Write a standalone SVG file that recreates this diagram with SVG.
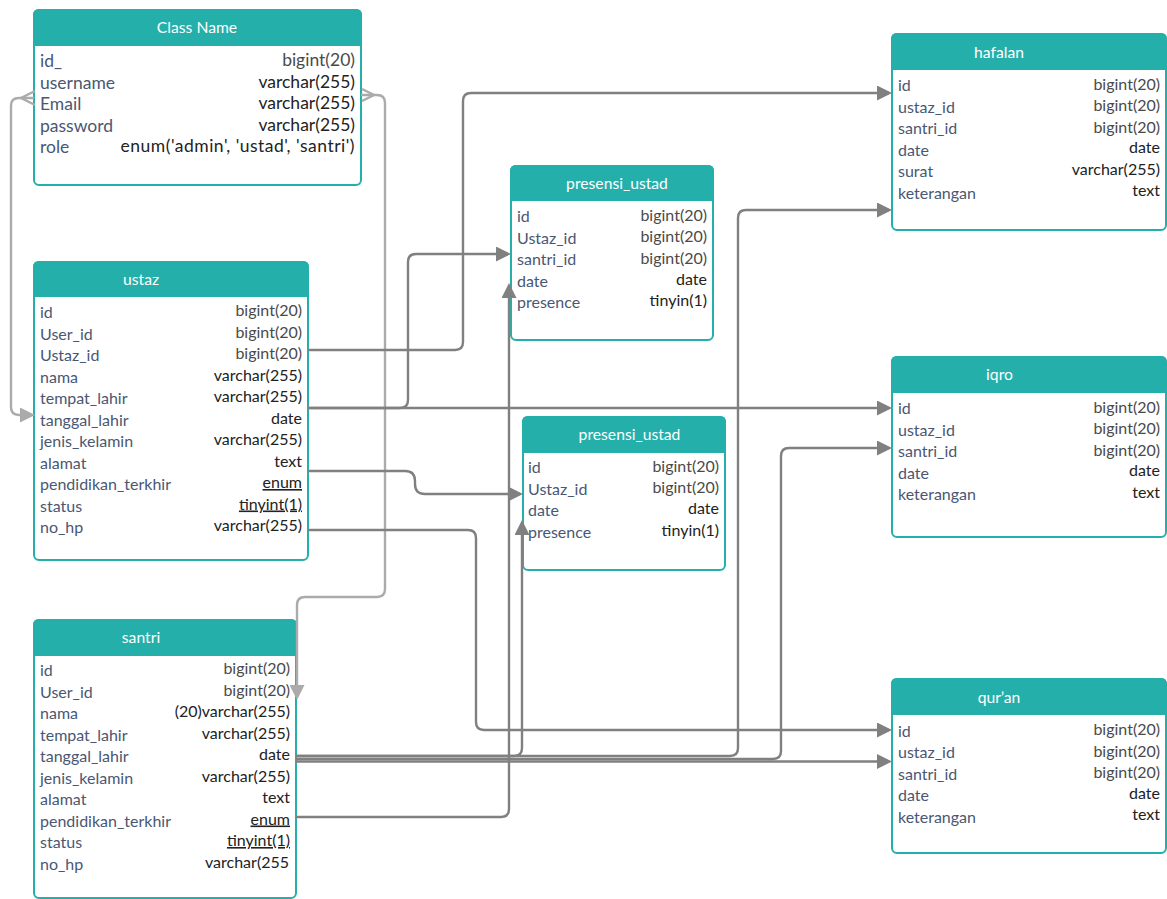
<svg xmlns="http://www.w3.org/2000/svg" width="1167" height="899" viewBox="0 0 1167 899">
<style>
.box{fill:#fff;stroke:#24AFAB;stroke-width:2}
.hdr{fill:#24AFAB;stroke:#24AFAB;stroke-width:2}
.ttl{font-family:Lato,"Open Sans",sans-serif;font-size:15.7px;fill:#fff;text-anchor:middle}
.f{font-family:Lato,"Open Sans",sans-serif;font-size:16px;fill:#4a5773}
.t{font-family:Lato,"Open Sans",sans-serif;font-size:16px;fill:#222;text-anchor:end}
.k{font-size:17.5px}
.g{fill:#4a4a4a}
.u{text-decoration:underline}
.c{fill:none;stroke:#808080;stroke-width:2.4}
.l{fill:none;stroke:#ababab;stroke-width:2.4}
</style>
<defs>
<marker id="a" viewBox="0 0 15 15" refX="12" refY="7.5" markerWidth="15" markerHeight="15" markerUnits="userSpaceOnUse" orient="auto"><path d="M0 0L15 7.5L0 15z" fill="#808080"/></marker>
<marker id="al" viewBox="0 0 15 15" refX="12" refY="7.5" markerWidth="15" markerHeight="15" markerUnits="userSpaceOnUse" orient="auto"><path d="M0 0L15 7.5L0 15z" fill="#ababab"/></marker>
</defs>

<g id="classname">
<rect class="box" x="34" y="10" width="327" height="175" rx="5"/>
<path class="hdr" d="M34 45V15Q34 10 39 10H356Q361 10 361 15V45Z"/>
<text class="ttl" x="197" y="33">Class Name</text>
<text class="f k" x="40" y="67">id_</text><text class="t k g" x="355" y="66">bigint(20)</text>
<text class="f k" x="40" y="88.5">username</text><text class="t k" x="355" y="87.5">varchar(255)</text>
<text class="f k" x="40" y="110">Email</text><text class="t k" x="355" y="109">varchar(255)</text>
<text class="f k" x="40" y="131.5">password</text><text class="t k" x="355" y="130.5">varchar(255)</text>
<text class="f k" x="40" y="153">role</text><text class="t k" x="355" y="152" letter-spacing="0.5">enum('admin', 'ustad', 'santri')</text>
</g>

<g id="ustaz">
<rect class="box" x="34" y="262" width="274" height="298" rx="5"/>
<path class="hdr" d="M34 296V267Q34 262 39 262H303Q308 262 308 267V296Z"/>
<text class="ttl" x="141" y="285">ustaz</text>
<text class="f" x="40" y="318">id</text><text class="t g" x="302" y="316">bigint(20)</text>
<text class="f" x="40" y="339.5">User_id</text><text class="t g" x="302" y="337.5">bigint(20)</text>
<text class="f" x="40" y="361">Ustaz_id</text><text class="t g" x="302" y="359">bigint(20)</text>
<text class="f" x="40" y="382.5">nama</text><text class="t" x="302" y="380.5">varchar(255)</text>
<text class="f" x="40" y="404">tempat_lahir</text><text class="t" x="302" y="402">varchar(255)</text>
<text class="f" x="40" y="425.5">tanggal_lahir</text><text class="t" x="302" y="423.5">date</text>
<text class="f" x="40" y="447">jenis_kelamin</text><text class="t" x="302" y="445">varchar(255)</text>
<text class="f" x="40" y="468.5">alamat</text><text class="t" x="302" y="466.5">text</text>
<text class="f" x="40" y="490">pendidikan_terkhir</text><text class="t u" x="302" y="488">enum</text>
<text class="f" x="40" y="511.5">status</text><text class="t u" x="302" y="509.5">tinyint(1)</text>
<text class="f" x="40" y="533">no_hp</text><text class="t" x="302" y="531">varchar(255)</text>
</g>

<g id="santri">
<rect class="box" x="34" y="620" width="262" height="278" rx="5"/>
<path class="hdr" d="M34 655V625Q34 620 39 620H291Q296 620 296 625V655Z"/>
<text class="ttl" x="141" y="643">santri</text>
<text class="f" x="40" y="676">id</text><text class="t g" x="290" y="674">bigint(20)</text>
<text class="f" x="40" y="697.5">User_id</text><text class="t g" x="290" y="695.5">bigint(20)</text>
<text class="f" x="40" y="719">nama</text><text class="t" x="290" y="717">(20)varchar(255)</text>
<text class="f" x="40" y="740.5">tempat_lahir</text><text class="t" x="290" y="738.5">varchar(255)</text>
<text class="f" x="40" y="762">tanggal_lahir</text><text class="t" x="290" y="760">date</text>
<text class="f" x="40" y="783.5">jenis_kelamin</text><text class="t" x="290" y="781.5">varchar(255)</text>
<text class="f" x="40" y="805">alamat</text><text class="t" x="290" y="803">text</text>
<text class="f" x="40" y="826.5">pendidikan_terkhir</text><text class="t u" x="290" y="824.5">enum</text>
<text class="f" x="40" y="848">status</text><text class="t u" x="290" y="846">tinyint(1)</text>
<text class="f" x="40" y="869.5">no_hp</text><text class="t" x="289" y="867.5">varchar(255</text>
</g>

<g id="presensi_ustad_1">
<rect class="box" x="511" y="166" width="202" height="174" rx="5"/>
<path class="hdr" d="M511 200V171Q511 166 516 166H708Q713 166 713 171V200Z"/>
<text class="ttl" x="617" y="189">presensi_ustad</text>
<text class="f" x="517" y="222">id</text><text class="t g" x="707" y="220.5">bigint(20)</text>
<text class="f" x="517" y="243.5">Ustaz_id</text><text class="t g" x="707" y="242">bigint(20)</text>
<text class="f" x="517" y="265">santri_id</text><text class="t g" x="707" y="263.5">bigint(20)</text>
<text class="f" x="517" y="286.5">date</text><text class="t" x="707" y="284.5">date</text>
<text class="f" x="517" y="308">presence</text><text class="t" x="707" y="306">tinyin(1)</text>
</g>

<g id="presensi_ustad_2">
<rect class="box" x="523" y="417" width="202" height="153" rx="5"/>
<path class="hdr" d="M523 452V422Q523 417 528 417H720Q725 417 725 422V452Z"/>
<text class="ttl" x="629.5" y="440">presensi_ustad</text>
<text class="f" x="528" y="473">id</text><text class="t g" x="719" y="471.5">bigint(20)</text>
<text class="f" x="528" y="494.5">Ustaz_id</text><text class="t g" x="719" y="493">bigint(20)</text>
<text class="f" x="528" y="516">date</text><text class="t" x="719" y="514">date</text>
<text class="f" x="528" y="537.5">presence</text><text class="t" x="719" y="535.5">tinyin(1)</text>
</g>

<g id="hafalan">
<rect class="box" x="892" y="34" width="274" height="196" rx="5"/>
<path class="hdr" d="M892 69V39Q892 34 897 34H1161Q1166 34 1166 39V69Z"/>
<text class="ttl" x="999" y="58">hafalan</text>
<text class="f" x="898" y="91">id</text><text class="t g" x="1160" y="89.5">bigint(20)</text>
<text class="f" x="898" y="112.5">ustaz_id</text><text class="t g" x="1160" y="111">bigint(20)</text>
<text class="f" x="898" y="134">santri_id</text><text class="t g" x="1160" y="132.5">bigint(20)</text>
<text class="f" x="898" y="155.5">date</text><text class="t" x="1160" y="153">date</text>
<text class="f" x="898" y="177">surat</text><text class="t" x="1160" y="174.5">varchar(255)</text>
<text class="f" x="898" y="198.5">keterangan</text><text class="t" x="1160" y="196">text</text>
</g>

<g id="iqro">
<rect class="box" x="892" y="357" width="274" height="180" rx="5"/>
<path class="hdr" d="M892 392V362Q892 357 897 357H1161Q1166 357 1166 362V392Z"/>
<text class="ttl" x="999.5" y="380">iqro</text>
<text class="f" x="898" y="414">id</text><text class="t g" x="1160" y="412.5">bigint(20)</text>
<text class="f" x="898" y="435.5">ustaz_id</text><text class="t g" x="1160" y="434">bigint(20)</text>
<text class="f" x="898" y="457">santri_id</text><text class="t g" x="1160" y="455.5">bigint(20)</text>
<text class="f" x="898" y="478.5">date</text><text class="t" x="1160" y="476">date</text>
<text class="f" x="898" y="500">keterangan</text><text class="t" x="1160" y="497.5">text</text>
</g>

<g id="quran">
<rect class="box" x="892" y="679" width="274" height="174" rx="5"/>
<path class="hdr" d="M892 714V684Q892 679 897 679H1161Q1166 679 1166 684V714Z"/>
<text class="ttl" x="999" y="703">qur’an</text>
<text class="f" x="898" y="736.5">id</text><text class="t g" x="1160" y="735">bigint(20)</text>
<text class="f" x="898" y="758">ustaz_id</text><text class="t g" x="1160" y="756.5">bigint(20)</text>
<text class="f" x="898" y="779.5">santri_id</text><text class="t g" x="1160" y="778">bigint(20)</text>
<text class="f" x="898" y="801">date</text><text class="t" x="1160" y="798.5">date</text>
<text class="f" x="898" y="822.5">keterangan</text><text class="t" x="1160" y="820">text</text>
</g>

<g id="connectors">
<path class="l" d="M34 98H19Q11 98 11 106V407Q11 415 19 415H32" marker-end="url(#al)"/>
<path class="l" d="M35 91L21 98L35 105"/>
<path class="l" d="M361 95H377Q385 95 385 103V589Q385 597 377 597H305Q297 597 297 605V697" marker-end="url(#al)"/>
<path class="l" d="M362 89L374 95L362 101"/>
<path class="c" d="M308 350H455Q463 350 463 342V101Q463 93 471 93H889" marker-end="url(#a)"/>
<path class="c" d="M308 408H400Q408 408 408 400V262Q408 254 416 254H508" marker-end="url(#a)"/>
<path class="c" d="M308 408H889" marker-end="url(#a)"/>
<path class="c" d="M308 471H405Q415 471 415 481V484Q415 494 425 494H520" marker-end="url(#a)"/>
<path class="c" d="M308 530H468Q476 530 476 538V722Q476 730 484 730H889" marker-end="url(#a)"/>
<path class="c" d="M296 756H514Q522 756 522 748V523" marker-end="url(#a)"/>
<path class="c" d="M296 756H730Q738 756 738 748V218Q738 210 746 210H889" marker-end="url(#a)"/>
<path class="c" d="M296 759H773Q781 759 781 751V456Q781 448 789 448H889" marker-end="url(#a)"/>
<path class="c" d="M296 761.5H889" marker-end="url(#a)"/>
<path class="c" d="M296 817H501Q509 817 509 809V286" marker-end="url(#a)"/>
</g>
</svg>
